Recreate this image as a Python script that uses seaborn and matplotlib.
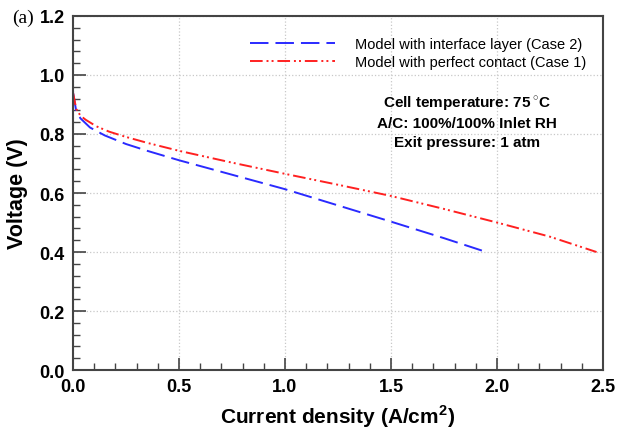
import numpy as np
import pandas as pd
import seaborn as sns
import matplotlib.pyplot as plt
from matplotlib.ticker import MultipleLocator

# --- polarization curves ---
case2_current = [0.0, 0.015, 0.035, 0.08, 0.15, 0.25, 0.35, 0.50, 0.75, 1.00, 1.25, 1.50, 1.75, 1.95]
case2_voltage = [0.94, 0.878, 0.853, 0.822, 0.795, 0.766, 0.743, 0.711, 0.662, 0.613, 0.558, 0.503, 0.447, 0.40]

case1_current = [0.0, 0.015, 0.035, 0.06, 0.11, 0.17, 0.25, 0.35, 0.50, 0.75, 1.00, 1.25, 1.50, 1.75, 2.00, 2.25, 2.47]
case1_voltage = [0.94, 0.885, 0.862, 0.848, 0.826, 0.808, 0.79, 0.77, 0.743, 0.703, 0.665, 0.628, 0.59, 0.546, 0.50, 0.452, 0.40]

label2 = 'Model with interface layer (Case 2)'
label1 = 'Model with perfect contact (Case 1)'
notes = ['Cell temperature: 75$\\,^{\\circ}$C', 'A/C: 100%/100% Inlet RH', 'Exit pressure: 1 atm']

df = pd.concat([
    pd.DataFrame({'current': case2_current, 'voltage': case2_voltage, 'case': label2}),
    pd.DataFrame({'current': case1_current, 'voltage': case1_voltage, 'case': label1}),
])

sns.set_style('ticks')
plt.rcParams['font.family'] = ['Liberation Sans', 'DejaVu Sans']
plt.rcParams['mathtext.fontset'] = 'custom'
plt.rcParams['mathtext.rm'] = 'Liberation Sans:bold'
plt.rcParams['mathtext.bf'] = 'Liberation Sans:bold'
plt.rcParams['text.color'] = 'black'
plt.rcParams['axes.labelcolor'] = 'black'
plt.rcParams['xtick.labelcolor'] = 'black'
plt.rcParams['ytick.labelcolor'] = 'black'

fig = plt.figure(figsize=(6.19, 4.35), dpi=100)
ax = fig.add_axes([0.118, 0.147, 0.856, 0.814])

sns.lineplot(data=df, x='current', y='voltage', hue='case', style='case',
             palette={label2: '#2a2aff', label1: '#ff2020'},
             dashes={label2: (9.5, 3.6), label1: (6.5, 2, 1, 1.6, 1, 2)},
             linewidth=1.4, ax=ax, sort=False)

ax.set_xlim(0, 2.5)
ax.set_ylim(0, 1.2)
ax.xaxis.set_major_locator(MultipleLocator(0.5))
ax.xaxis.set_minor_locator(MultipleLocator(0.1))
ax.yaxis.set_major_locator(MultipleLocator(0.2))
ax.yaxis.set_minor_locator(MultipleLocator(0.04))
ax.tick_params(which='major', direction='in', length=9, width=1.2, labelsize=13, pad=6,
               color='#444444', labelcolor='black')
ax.tick_params(which='minor', direction='in', length=5, width=1.0, color='#444444')
for lab in ax.get_xticklabels() + ax.get_yticklabels():
    lab.set_fontweight('bold')
ax.grid(True, which='major', linestyle=':', color='#c8c8c8', linewidth=0.9)
for sp in ax.spines.values():
    sp.set_visible(True)
    sp.set_color('#444444')
    sp.set_linewidth(1.5)

ax.set_xlabel('Current density (A/cm$^{2}$)', fontsize=15, fontweight='bold', labelpad=5)
ax.set_ylabel('Voltage (V)', fontsize=15.5, fontweight='bold', labelpad=8)

ax.legend(title=None, frameon=False, loc='upper left', bbox_to_anchor=(0.334, 0.94),
          borderaxespad=0, borderpad=0, fontsize=10.5, handlelength=5.8,
          handletextpad=1.4, labelspacing=0.25)

note_y = [0.754, 0.698, 0.644]
for t, yy in zip(notes, note_y):
    ax.text(0.743, yy, t, transform=ax.transAxes, ha='center', va='center',
            fontsize=11, fontweight='bold')

fig.text(0.019, 0.958, '(a)', family='Liberation Serif', fontsize=14, va='center')

plt.savefig('out.png', dpi=100)
